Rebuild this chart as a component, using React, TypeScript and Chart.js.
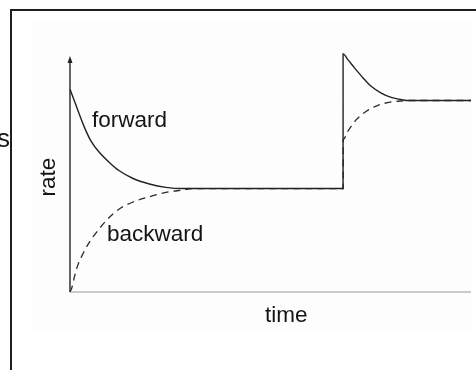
import React, { useEffect, useRef } from "react";
import { Chart, registerables } from "chart.js";

Chart.register(...registerables);

// time axis runs 0..100, rate axis runs 0..100 (arbitrary units)
const forwardTime = [0, 1, 2.3, 3.6, 5.2, 7.3, 9.8, 12.3, 15.6, 19.8, 23.9, 28.1, 31.2, 68.1, 68.1, 69.3, 71.0, 73.1, 75.1, 77.6, 80.1, 83.5, 84.3, 100];
const forwardRate = [84.5, 80, 74.2, 68.6, 63.0, 58.2, 54.0, 50.5, 47.4, 45.0, 43.6, 43.1, 43.1, 43.1, 99.2, 96.8, 93.3, 89.2, 85.7, 82.9, 81.1, 79.9, 79.8, 79.8];

const backwardTime = [0, 0.5, 1.07, 1.9, 3.2, 4.8, 6.9, 9.4, 12.3, 15.6, 19.8, 23.9, 28.1, 31.2, 68.1, 68.1, 69.3, 71.4, 73.9, 76.8, 80.1, 83.5, 84.3, 100];
const backwardRate = [0, 2.0, 6.1, 11.0, 15.8, 20.7, 25.5, 30.4, 34.6, 37.4, 39.7, 41.5, 42.5, 43.1, 43.1, 63.5, 67.0, 71.8, 75.3, 77.8, 79.2, 79.7, 79.8, 79.8];

const labels = { forward: "forward", backward: "backward", yTitle: "rate", xTitle: "time", clipped: "s" };

const FONT = '"Liberation Sans", Arial, Helvetica, sans-serif';
const INK = "#141414";

const decorPlugin = {
  id: "decor",
  beforeDraw(chart: any) {
    const ctx = chart.ctx;
    ctx.save();
    ctx.fillStyle = "#ffffff";
    ctx.fillRect(0, 0, chart.width, chart.height);
    ctx.fillStyle = "#fdfdfd";
    ctx.fillRect(31, 22, 440, 310);
    ctx.strokeStyle = "#1e1e1e";
    ctx.lineWidth = 2;
    ctx.beginPath();
    ctx.moveTo(11, chart.height);
    ctx.lineTo(11, 10);
    ctx.lineTo(chart.width, 10);
    ctx.stroke();
    ctx.restore();
  },
  beforeDatasetsDraw(chart: any) {
    const ctx = chart.ctx;
    const xs = chart.scales.x;
    const ys = chart.scales.y;
    const x0 = xs.getPixelForValue(0);
    const y0 = ys.getPixelForValue(0);
    ctx.save();
    ctx.strokeStyle = "#cacaca";
    ctx.lineWidth = 2;
    ctx.beginPath();
    ctx.moveTo(x0, y0);
    ctx.lineTo(xs.getPixelForValue(100), y0);
    ctx.stroke();
    const yTop = ys.getPixelForValue(98.3);
    ctx.strokeStyle = "#333";
    ctx.lineWidth = 1.5;
    ctx.beginPath();
    ctx.moveTo(x0, y0);
    ctx.lineTo(x0, yTop + 4);
    ctx.stroke();
    ctx.fillStyle = "#222";
    ctx.beginPath();
    ctx.moveTo(x0, yTop);
    ctx.lineTo(x0 - 2.5, yTop + 7);
    ctx.lineTo(x0 + 2.5, yTop + 7);
    ctx.closePath();
    ctx.fill();
    ctx.restore();
  },
  afterDraw(chart: any) {
    const ctx = chart.ctx;
    ctx.save();
    ctx.fillStyle = INK;
    ctx.textBaseline = "alphabetic";
    ctx.font = `22.5px ${FONT}`;
    ctx.textAlign = "left";
    ctx.fillText(labels.forward, 92, 127);
    ctx.fillText(labels.backward, 107, 241);
    ctx.fillText(labels.xTitle, 265, 322);
    ctx.save();
    ctx.translate(55, 177);
    ctx.rotate(-Math.PI / 2);
    ctx.textAlign = "center";
    ctx.fillText(labels.yTitle, 0, 0);
    ctx.restore();
    ctx.font = `26px ${FONT}`;
    ctx.textAlign = "right";
    ctx.fillText(labels.clipped, 10, 147);
    ctx.restore();
  },
};

export default function App() {
  const ref = useRef<HTMLCanvasElement | null>(null);
  useEffect(() => {
    if (!ref.current) return;
    const chart = new Chart(ref.current, {
      type: "line",
      data: {
        datasets: [
          {
            label: labels.forward,
            data: forwardTime.map((t, i) => ({ x: t, y: forwardRate[i] })),
            borderColor: "#222",
            borderWidth: 1.4,
            pointRadius: 0,
            fill: false,
            clip: false,
          },
          {
            label: labels.backward,
            data: backwardTime.map((t, i) => ({ x: t, y: backwardRate[i] })),
            borderColor: "#2a2a2a",
            borderWidth: 1.3,
            borderDash: [7, 5],
            pointRadius: 0,
            fill: false,
            clip: false,
          },
        ],
      },
      options: {
        animation: false,
        responsive: false,
        devicePixelRatio: 1,
        layout: { padding: { left: 70, right: 5, top: 52, bottom: 78 } },
        plugins: { legend: { display: false }, tooltip: { enabled: false } },
        elements: { line: { cubicInterpolationMode: "monotone" } },
        scales: {
          x: { type: "linear", min: 0, max: 100, display: false },
          y: { type: "linear", min: 0, max: 100, display: false },
        },
      },
      plugins: [decorPlugin],
    });
    return () => chart.destroy();
  }, []);
  return (
    <div style={{ position: "absolute", left: 0, top: 0, width: 476, height: 370 }}>
      <canvas ref={ref} width={476} height={370} style={{ display: "block" }} />
    </div>
  );
}
